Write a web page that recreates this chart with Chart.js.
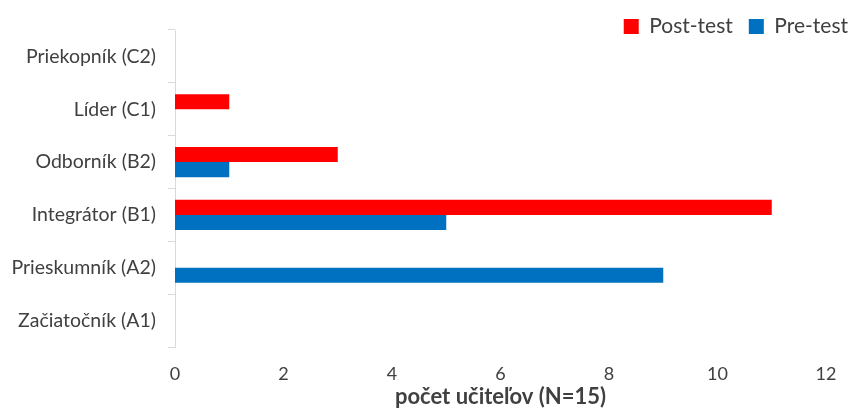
<!DOCTYPE html>
<html>
<head>
<meta charset="utf-8">
<script src="https://cdn.jsdelivr.net/npm/chart.js@4"></script>
<style>
  html, body { margin: 0; padding: 0; background: #fff; }
  #wrap { width: 852px; height: 418px; }
</style>
</head>
<body>
<div id="wrap"><canvas id="chart"></canvas></div>
<script>
// Úrovne (zhora nadol)
const levels = ["Priekopník (C2)", "Líder (C1)", "Odborník (B2)", "Integrátor (B1)", "Prieskumník (A2)", "Začiatočník (A1)"];
const postTest = [0, 1, 3, 11, 0, 0];
const preTest = [0, 0, 1, 5, 9, 0];
const xTicks = [0, 2, 4, 6, 8, 10, 12];

const textColor = "#404040";
const fontFamily = "Lato, 'Open Sans', sans-serif";

// Legenda má pevnú výšku, aby graf začínal na správnom mieste (a bez orezania)
const legendHeight = {
    id: "legendHeight",
    afterInit(chart) {
        const legend = chart.legend;
        const fit = legend.fit;
        legend.fit = function () {
            fit.call(this);
            this.height = 30;
        };
        legend.draw = function () {
            if (this.options.display) this._draw();
        };
    }
};

const ctx = document.getElementById("chart").getContext("2d");
new Chart(ctx, {
    type: "bar",
    data: {
        labels: levels,
        datasets: [
            { label: "Post-test", data: postTest, backgroundColor: "#FF0000" },
            { label: "Pre-test", data: preTest, backgroundColor: "#0070C0" }
        ]
    },
    plugins: [legendHeight],
    options: {
        indexAxis: "y",
        responsive: true,
        maintainAspectRatio: false,
        animation: false,
        barPercentage: 1,
        categoryPercentage: 0.57,
        layout: { padding: { left: 0, right: -12, top: 0, bottom: 0 } },
        plugins: {
            legend: {
                position: "top",
                align: "end",
                labels: {
                    boxWidth: 15,
                    boxHeight: 15,
                    padding: 16,
                    color: textColor,
                    font: { family: fontFamily, size: 21 }
                }
            },
            tooltip: { enabled: false }
        },
        scales: {
            x: {
                min: 0,
                max: 12,
                afterBuildTicks: scale => { scale.ticks = xTicks.map(v => ({ value: v })); },
                afterFit: scale => { scale.height = 71; scale.paddingRight = 26; },
                grid: { display: false, drawTicks: false },
                border: { display: false },
                ticks: { color: textColor, padding: 16, font: { family: fontFamily, size: 18 } },
                title: {
                    display: true,
                    text: "počet učiteľov (N=15)",
                    color: textColor,
                    font: { family: fontFamily, size: 22, weight: "bold" },
                    padding: { top: 4, bottom: 8 }
                }
            },
            y: {
                afterFit: scale => { scale.width = 175; },
                grid: {
                    offset: true,
                    drawOnChartArea: false,
                    drawTicks: true,
                    tickLength: 7,
                    color: "#d9d9d9"
                },
                border: { color: "#d9d9d9", width: 1 },
                ticks: { color: textColor, padding: 12, font: { family: fontFamily, size: 19.5 } }
            }
        }
    }
});
</script>
</body>
</html>
